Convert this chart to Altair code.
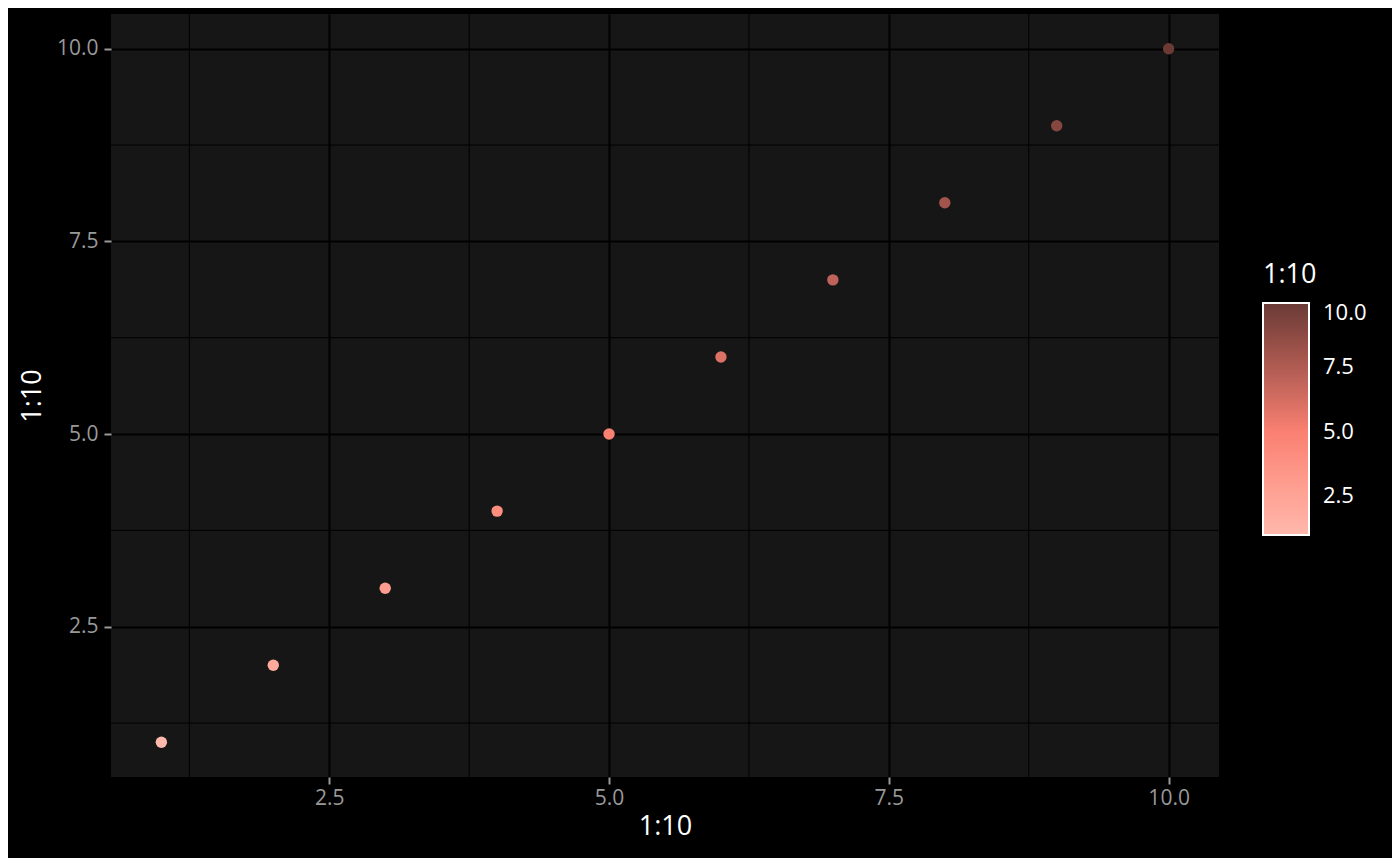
import altair as alt
import pandas as pd

xs = [1, 2, 3, 4, 5, 6, 7, 8, 9, 10]
ys = [1, 2, 3, 4, 5, 6, 7, 8, 9, 10]
cs = [1, 2, 3, 4, 5, 6, 7, 8, 9, 10]
major_ticks = [2.5, 5.0, 7.5, 10.0]
minor_ticks = [1.25, 3.75, 6.25, 8.75]
color_stops = [1, 5, 10]
color_range = ["#FFB8AC", "#FA8072", "#6B3A35"]

df = pd.DataFrame({"x": xs, "y": ys, "c": cs})
minor_df = pd.DataFrame({"m": minor_ticks})

FONT = "Open Sans"
xscale = alt.Scale(domain=[0.55, 10.45], nice=False, zero=False)
yscale = alt.Scale(domain=[0.55, 10.45], nice=False, zero=False)
xaxis = alt.Axis(values=major_ticks, format=".1f")
yaxis = alt.Axis(values=major_ticks, format=".1f")

minor_x = alt.Chart(minor_df).mark_rule(color="#000000", strokeWidth=1).encode(
    x=alt.X("m:Q", scale=xscale, title="1:10", axis=xaxis)
)
minor_y = alt.Chart(minor_df).mark_rule(color="#000000", strokeWidth=1).encode(
    y=alt.Y("m:Q", scale=yscale, title="1:10", axis=yaxis)
)

points = alt.Chart(df).mark_circle(size=130, opacity=1).encode(
    x=alt.X("x:Q", scale=xscale, title="1:10", axis=xaxis),
    y=alt.Y("y:Q", scale=yscale, title="1:10", axis=yaxis),
    color=alt.Color("c:Q", title="1:10",
                    scale=alt.Scale(domain=color_stops, range=color_range, interpolate="lab"),
                    legend=alt.Legend(values=major_ticks, format=".1f", orient="none",
                                      legendX=1152, legendY=248,
                                      gradientLength=232, gradientThickness=46,
                                      gradientStrokeColor="#FFFFFF", gradientStrokeWidth=2,
                                      titleFontSize=27, titleColor="#FFFFFF", titleFont=FONT,
                                      titleFontWeight="normal", titlePadding=14,
                                      labelFontSize=22, labelColor="#FFFFFF", labelFont=FONT,
                                      labelOffset=14)),
)

chart = alt.layer(minor_x, minor_y, points).properties(
    width=1108, height=763, background="#000000",
    padding={"left": 103, "top": 6, "right": 173, "bottom": 81},
    autosize=alt.AutoSizeParams(type="none"),
).configure_view(fill="#161616", stroke=None).configure_axis(
    grid=True, gridColor="#000000", gridWidth=2,
    domain=False, tickColor="#999999", tickSize=7, tickWidth=2,
    labelColor="#999999", labelFontSize=21, labelFont=FONT,
    titleColor="#FFFFFF", titleFontSize=27, titleFont=FONT, titleFontWeight="normal",
).configure_axisX(labelPadding=3, titlePadding=5).configure_axisY(labelPadding=6, titlePadding=10)

chart.save("out.html", embed_options={"renderer": "svg", "actions": False})
